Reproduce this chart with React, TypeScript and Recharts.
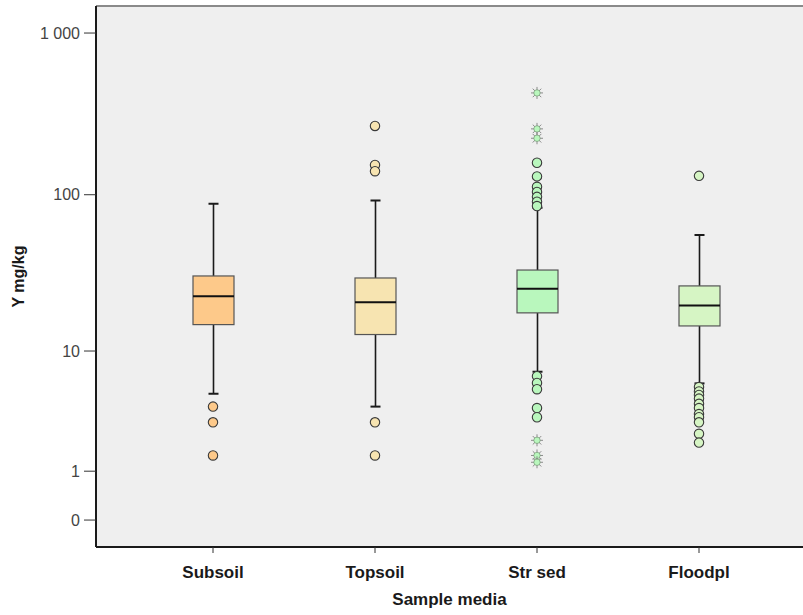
import React from "react";
import {
  ComposedChart,
  Bar,
  Scatter,
  XAxis,
  YAxis,
  CartesianGrid,
  ReferenceLine,
} from "recharts";

// ---- data ----
const categories = ["Subsoil", "Topsoil", "Str sed", "Floodpl"];
const whiskerLow = [5.0, 4.0, 7.2, 5.95];
const quartile1 = [15.0, 12.9, 17.9, 14.7];
const medians = [22.9, 21.0, 25.6, 20.0];
const quartile3 = [30.9, 30.0, 33.7, 26.7];
const whiskerHigh = [88, 92, 83, 56];
const boxColors = ["#fdc98a", "#f7e4b1", "#b9f7bd", "#d6f5c4"];

const subsoilOutliers = [4.0, 3.0, 1.5];
const topsoilOutliers = [267, 153, 140, 3.0, 1.5];
const strSedOutliers = [158, 130, 112, 104, 97, 90.5, 85, 6.7, 6.0, 5.4, 3.9, 3.3];
const strSedExtremes = [427, 256, 224, 2.1, 1.5, 1.27];
const floodplOutliers = [131, 5.6, 5.2, 4.9, 4.6, 4.2, 3.9, 3.5, 3.3, 3.0, 2.4, 2.0];

const yTickValues = [0, 1, 10, 100, 1000];
const yTickLabels = ["0", "1", "10", "100", "1 000"];

// ---- transform: log10(v + 1) scale ----
const T = (v: number) => Math.log10(v + 1);

const chartData = categories.map((name, i) => ({
  name,
  range: [T(whiskerLow[i]), T(whiskerHigh[i])],
  lo: whiskerLow[i],
  q1: quartile1[i],
  med: medians[i],
  q3: quartile3[i],
  hi: whiskerHigh[i],
  color: boxColors[i],
}));

const mk = (name: string, vals: number[], kind: string, color: string) =>
  vals.map((v) => ({ name, t: T(v), kind, color }));

const pointData = [
  ...mk("Subsoil", subsoilOutliers, "circle", boxColors[0]),
  ...mk("Topsoil", topsoilOutliers, "circle", boxColors[1]),
  ...mk("Str sed", strSedOutliers, "circle", boxColors[2]),
  ...mk("Str sed", strSedExtremes, "star", boxColors[2]),
  ...mk("Floodpl", floodplOutliers, "circle", boxColors[3]),
];

const yDomain = [-0.166, 3.167];
const yTicks = yTickValues.map(T);
const fmtY = (t: number) => {
  const idx = yTicks.findIndex((v) => Math.abs(v - t) < 1e-9);
  return idx >= 0 ? yTickLabels[idx] : "";
};

const FONT = "'Liberation Sans', Arial, Helvetica, sans-serif";

const BoxShape = (props: any) => {
  const { x, y, width, height, payload } = props;
  if (x == null || y == null) return null;
  const top = Math.min(y, y + height);
  const h = Math.abs(height);
  const tHi = T(payload.hi);
  const tLo = T(payload.lo);
  const py = (v: number) => top + (h * (tHi - T(v))) / (tHi - tLo);
  const cx = x + width / 2;
  const cap = 5;
  return (
    <g>
      <line x1={cx} x2={cx} y1={py(payload.hi)} y2={py(payload.q3)} stroke="#1a1a1a" strokeWidth={1.6} />
      <line x1={cx} x2={cx} y1={py(payload.q1)} y2={py(payload.lo)} stroke="#1a1a1a" strokeWidth={1.6} />
      <line x1={cx - cap} x2={cx + cap} y1={py(payload.hi)} y2={py(payload.hi)} stroke="#1a1a1a" strokeWidth={2} />
      <line x1={cx - cap} x2={cx + cap} y1={py(payload.lo)} y2={py(payload.lo)} stroke="#1a1a1a" strokeWidth={2} />
      <rect
        x={x}
        y={py(payload.q3)}
        width={width}
        height={py(payload.q1) - py(payload.q3)}
        fill={payload.color}
        stroke="#555"
        strokeWidth={1.2}
      />
      <line x1={x} x2={x + width} y1={py(payload.med)} y2={py(payload.med)} stroke="#111" strokeWidth={2} />
    </g>
  );
};

const PointShape = (props: any) => {
  const { cx, cy, payload } = props;
  if (cx == null || cy == null) return null;
  if (payload.kind === "star") {
    const rays = [];
    for (let k = 0; k < 8; k++) {
      const a = (k * Math.PI) / 4;
      rays.push(
        <line
          key={k}
          x1={cx}
          y1={cy}
          x2={cx + 6 * Math.cos(a)}
          y2={cy + 6 * Math.sin(a)}
          stroke="#8a8a8a"
          strokeWidth={1}
        />
      );
    }
    return (
      <g>
        {rays}
        <circle cx={cx} cy={cy} r={3.2} fill={payload.color} stroke="#6a8a6a" strokeWidth={0.6} />
      </g>
    );
  }
  return <circle cx={cx} cy={cy} r={4.7} fill={payload.color} stroke="#3a3a3a" strokeWidth={1.1} />;
};

export default function App() {
  return (
    <div style={{ position: "absolute", left: 0, top: 0, background: "#fff" }}>
      <ComposedChart
        width={803}
        height={615}
        data={chartData}
        margin={{ top: 6, right: 0, bottom: 38, left: 0 }}
      >
        <CartesianGrid fill="#efefef" horizontal={false} vertical={false} />
        <XAxis
          dataKey="name"
          type="category"
          allowDuplicatedCategory={false}
          padding={{ left: 36, right: 23 }}
          height={30}
          tickSize={6}
          tickMargin={13}
          axisLine={{ stroke: "#1a1a1a", strokeWidth: 2 }}
          tickLine={{ stroke: "#333" }}
          tick={{ fill: "#1a1a1a", fontSize: 17, fontWeight: "bold", fontFamily: FONT }}
          label={{
            value: "Sample media",
            position: "bottom",
            offset: 16,
            style: { fill: "#1a1a1a", fontSize: 17, fontWeight: "bold", fontFamily: FONT },
          }}
        />
        <YAxis
          type="number"
          domain={yDomain}
          allowDataOverflow
          ticks={yTicks}
          tickFormatter={fmtY}
          width={96}
          tickSize={12}
          tickMargin={4}
          axisLine={{ stroke: "#1a1a1a", strokeWidth: 2 }}
          tickLine={{ stroke: "#333" }}
          tick={{ fill: "#444", fontSize: 16, fontFamily: FONT }}
          label={{
            value: "Y mg/kg",
            angle: -90,
            position: "insideLeft",
            offset: 18,
            style: { textAnchor: "middle", fill: "#1a1a1a", fontSize: 16, fontWeight: "bold", fontFamily: FONT },
          }}
        />
        <ReferenceLine y={yDomain[1]} stroke="#8a8a8a" strokeWidth={2} ifOverflow="extendDomain" />
        <Bar dataKey="range" barSize={41} shape={<BoxShape />} isAnimationActive={false} />
        <Scatter data={pointData} dataKey="t" shape={<PointShape />} isAnimationActive={false} />
      </ComposedChart>
    </div>
  );
}
